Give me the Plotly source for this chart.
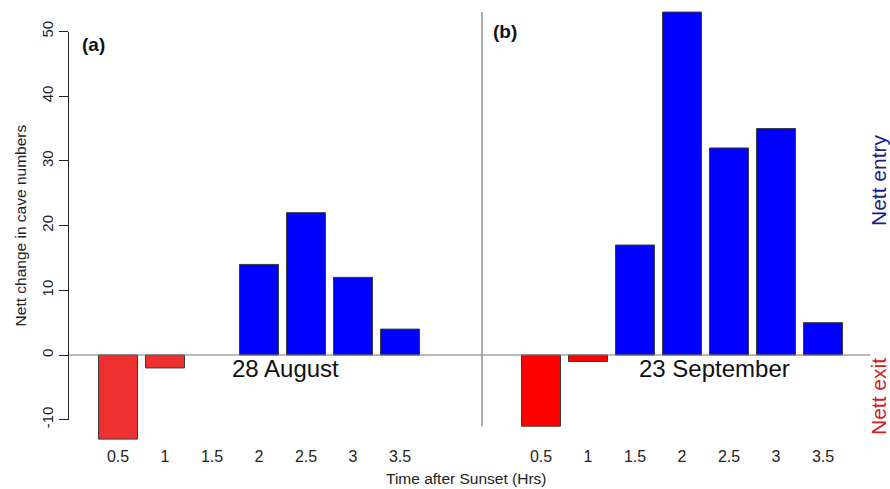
import plotly.graph_objects as go

# ---------------- data ----------------
time_labels = ["0.5", "1", "1.5", "2", "2.5", "3", "3.5"]
aug28_change = [-13, -2, 0, 14, 22, 12, 4]
sep23_change = [-11, -1, 17, 53, 32, 35, 5]
y_ticks = [-10, 0, 10, 20, 30, 40, 50]
y_tick_text = ["-10", "0", "10", "20", "30", "40", "50"]

# ---------------- layout constants (pixels) ----------------
W, H = 890, 489
ZERO_PX = 355.0          # pixel row of y=0
PX_PER_UNIT = 6.47       # vertical pixels per unit
X0_PX = 118.0            # pixel column of first bar of panel (a)
PX_PER_SLOT = 47.0       # horizontal pixels per bar slot
PLOT_BOTTOM_PX = 445.0
AXIS_PX = 69.0
RIGHT_OFFSET = 9         # panel (b) starts 9 slots after panel (a)

def dx(px):
    return (px - X0_PX) / PX_PER_SLOT

def dy(py):
    return (ZERO_PX - py) / PX_PER_UNIT

def fx(px):
    return px / W

def fy(py):
    return (PLOT_BOTTOM_PX - py) / PLOT_BOTTOM_PX

x_range = [dx(0), dx(W)]
y_range = [dy(PLOT_BOTTOM_PX), dy(0)]

left_pos = list(range(len(time_labels)))
right_pos = [p + RIGHT_OFFSET for p in left_pos]

def colors(vals, neg):
    return [neg if v < 0 else "#0000FF" for v in vals]

def outline_widths(vals):
    return [0 if v == 0 else 1 for v in vals]

font = "Liberation Sans, Arial, Helvetica, sans-serif"

fig = go.Figure()
fig.add_trace(go.Bar(x=left_pos, y=aug28_change, width=0.83,
                     marker=dict(color=colors(aug28_change, "#EE3030"),
                                 line=dict(color="#3a3a3a", width=outline_widths(aug28_change))),
                     showlegend=False, hoverinfo="skip"))
fig.add_trace(go.Bar(x=right_pos, y=sep23_change, width=0.83,
                     marker=dict(color=colors(sep23_change, "#FF0000"),
                                 line=dict(color="#3a3a3a", width=outline_widths(sep23_change))),
                     showlegend=False, hoverinfo="skip"))
# dummy trace for the visible y axis subplot
fig.add_trace(go.Scatter(x=[None], y=[None], xaxis="x2", yaxis="y2",
                         showlegend=False, hoverinfo="skip"))

span = y_range[1] - y_range[0]
d0 = (-10 - y_range[0]) / span
d1 = (50 - y_range[0]) / span

fig.update_layout(
    width=W, height=H,
    margin=dict(l=0, r=0, t=0, b=H - PLOT_BOTTOM_PX, pad=0, autoexpand=False),
    paper_bgcolor="white", plot_bgcolor="rgba(0,0,0,0)",
    font=dict(family=font, color="#222222"),
    bargap=0,
    xaxis=dict(range=x_range, domain=[0, 1], showgrid=False, zeroline=False,
               showline=False, ticks="", automargin=False,
               tickvals=left_pos + right_pos, ticktext=time_labels + time_labels,
               tickfont=dict(size=16, color="#222222"), fixedrange=True),
    yaxis=dict(range=y_range, domain=[0, 1], visible=False, fixedrange=True,
               automargin=False),
    xaxis2=dict(domain=[AXIS_PX / W, 1], anchor="y2", visible=False, range=[0, 1],
                automargin=False, fixedrange=True),
    yaxis2=dict(domain=[d0, d1], anchor="x2", range=[-10, 50], automargin=False,
                tickvals=y_ticks, ticktext=y_tick_text, ticks="outside", ticklen=9,
                tickwidth=1, fixedrange=True,
                tickcolor="#222222", showline=True, linecolor="#222222", linewidth=1,
                showgrid=False, zeroline=False, tickangle=-90,
                tickfont=dict(size=15, color="#222222"),
                title=dict(text="Nett change in cave numbers",
                           font=dict(size=15.5, color="#222222"), standoff=8)),
)

# zero line across both panels and separator line for panel (b)
fig.add_shape(type="line", xref="x", yref="y", x0=dx(AXIS_PX), x1=dx(870),
              y0=0, y1=0, line=dict(color="#777777", width=1.2))
fig.add_shape(type="line", xref="x", yref="y", x0=dx(482), x1=dx(482),
              y0=min(sep23_change), y1=max(sep23_change),
              line=dict(color="#777777", width=1.2))

def ann(text, px, py, size, color="#111111", bold=False, angle=0):
    fig.add_annotation(x=fx(px), y=fy(py), xref="paper", yref="paper",
                       text=("<b>%s</b>" % text) if bold else text,
                       showarrow=False, textangle=angle,
                       font=dict(size=size, color=color, family=font),
                       xanchor="center", yanchor="middle")

ann("(a)", 93, 44, 19, bold=True)
ann("(b)", 505, 31, 19, bold=True)
ann("28 August", 285, 368, 24)
ann("23 September", 714, 368, 24)
ann("Nett entry", 878, 180, 21, color="#1c1c8c", angle=-90)
ann("Nett exit", 878, 397, 21, color="#cc2222", angle=-90)
ann("Time after Sunset (Hrs)", 466, 478, 15.5, color="#222222")

fig.write_html("out.html", config={"displayModeBar": False, "staticPlot": True},
               post_script="document.body.style.margin='0';document.body.style.overflow='hidden';")
